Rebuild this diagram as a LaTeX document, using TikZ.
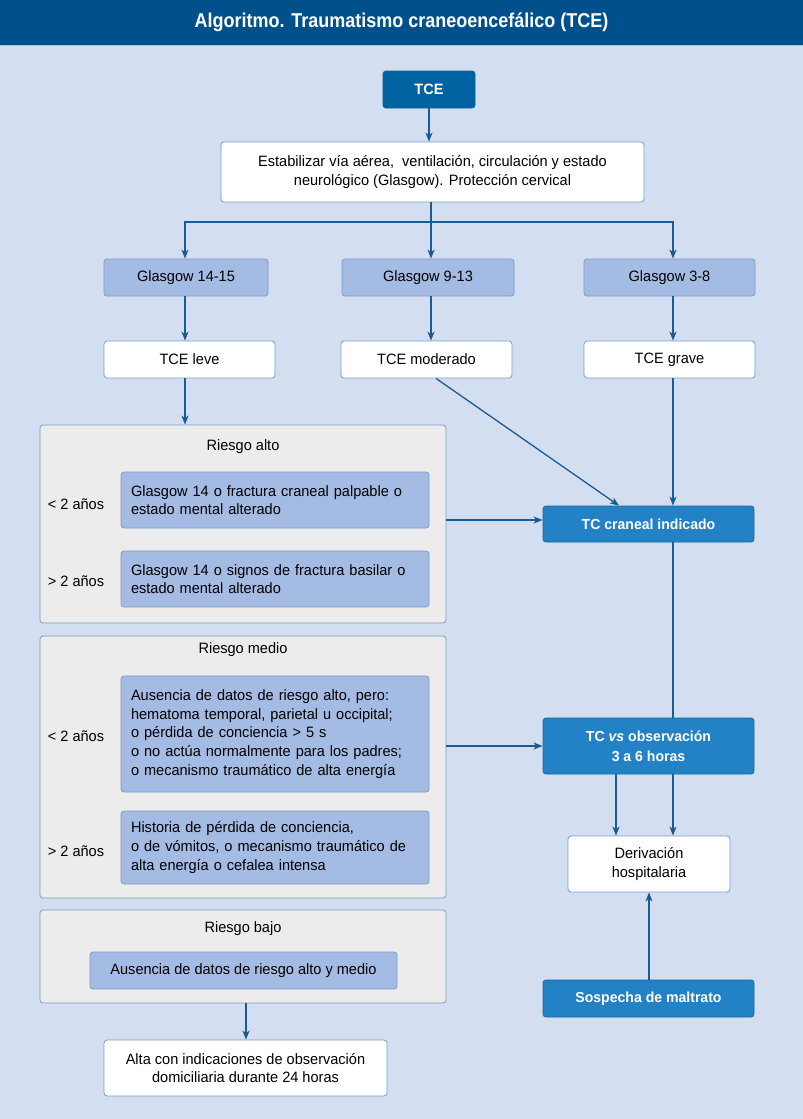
\documentclass[tikz,border=0pt]{standalone}
\usepackage{fontspec}
\setmainfont{Liberation Sans}[FakeStretch=0.97]
\newfontfamily\titfont{Liberation Sans}[FakeStretch=0.9]
\usetikzlibrary{arrows.meta,positioning}
\definecolor{bgc}{HTML}{D4DEF1}
\definecolor{titc}{HTML}{00508C}
\definecolor{tcec}{HTML}{0062A0}
\definecolor{tcc}{HTML}{2382C6}
\definecolor{glc}{HTML}{A4BBE4}
\definecolor{grc}{HTML}{ECECEC}
\definecolor{bdc}{HTML}{7A9CC8}
\definecolor{arc}{HTML}{1A5A96}
\begin{document}
\begin{tikzpicture}[x=1pt,y=-1pt,
  every node/.style={font=\fontsize{15}{18.7}\selectfont,inner sep=0pt},
  bx/.style={draw=bdc,line width=0.8pt,rounded corners=3pt,align=center,text=black},
  wbox/.style={bx,fill=white},
  gbox/.style={bx,fill=glc},
  dbox/.style={bx,fill=tcec,draw=tcec,text=white,font=\bfseries\fontsize{15}{18}\selectfont},
  tbox/.style={bx,fill=tcc,draw=tcc!80!black,text=white,font=\bfseries\fontsize{14.5}{20}\selectfont},
  rbox/.style={bx,fill=grc},
  ibox/.style={bx,fill=glc,align=left},
  arr/.style={draw=arc,line width=1.3pt,-{Stealth[length=9pt,width=7pt,inset=2.5pt]}},
  ln/.style={draw=arc,line width=1.3pt}]
\useasboundingbox (0,0) rectangle (803,1119);
\fill[bgc] (0,0) rectangle (803,1119);
\fill[titc] (0,0) rectangle (803,45);
\draw[bdc!60!white,line width=0.8pt] (0,45.5) -- (803,45.5);
\node[text=white,font=\titfont\bfseries\fontsize{20}{22}\selectfont] (title) at (401.5,22) {Algoritmo. Traumatismo craneoencefálico (TCE)};

% top
\node[dbox,minimum width=92pt,minimum height=37pt] (tce) at (429,89.5) {TCE};
\node[wbox,minimum width=423pt,minimum height=60pt,font=\fontsize{15}{19.5}\selectfont] (estab) at (432.5,172) {Estabilizar vía aérea,\ \ ventilación, circulación y estado\\neurológico (Glasgow). Protección cervical};

\node[gbox,minimum width=164pt,minimum height=37pt] (g1) at (186,277.5) {Glasgow 14-15};
\node[gbox,minimum width=172pt,minimum height=37pt] (g2) at (428,277.5) {Glasgow 9-13};
\node[gbox,minimum width=171pt,minimum height=37pt] (g3) at (669.5,277.5) {Glasgow 3-8};

\node[wbox,minimum width=171pt,minimum height=37pt] (l1) at (189.5,359.5) {TCE leve};
\node[wbox,minimum width=171pt,minimum height=37pt] (l2) at (426.5,359.5) {TCE moderado};
\node[wbox,minimum width=171pt,minimum height=37pt] (l3) at (669.5,359.5) {TCE grave};

% riesgo alto
\node[rbox,minimum width=406pt,minimum height=198pt] (ra) at (243,524) {};
\node (ralab) at (243,447) {Riesgo alto};
\node[ibox,minimum width=308pt,minimum height=56pt,text width=288pt] (ra1) at (275,500) {Glasgow 14 o fractura craneal palpable o\\estado mental alterado};
\node[ibox,minimum width=308pt,minimum height=56pt,text width=288pt] (ra2) at (275,579) {Glasgow 14 o signos de fractura basilar o\\estado mental alterado};
\node (ra1l) at (76,504) {< 2 años};
\node (ra2l) at (76,581) {> 2 años};

% riesgo medio
\node[rbox,minimum width=406pt,minimum height=262pt] (rm) at (243,767) {};
\node (rmlab) at (243,650) {Riesgo medio};
\node[ibox,minimum width=308pt,minimum height=116pt,text width=288pt] (rm1) at (275,734) {Ausencia de datos de riesgo alto, pero:\\hematoma temporal, parietal u occipital;\\o pérdida de conciencia > 5 s\\o no actúa normalmente para los padres;\\o mecanismo traumático de alta energía};
\node[ibox,minimum width=308pt,minimum height=73pt,text width=288pt] (rm2) at (275,847.5) {Historia de pérdida de conciencia,\\o de vómitos, o mecanismo traumático de\\alta energía o cefalea intensa};
\node (rm1l) at (76,736) {< 2 años};
\node (rm2l) at (76,851) {> 2 años};

% riesgo bajo
\node[rbox,minimum width=406pt,minimum height=93pt] (rb) at (243,956.5) {};
\node (rblab) at (243,929) {Riesgo bajo};
\node[gbox,minimum width=307pt,minimum height=37pt] (rb1) at (243.5,970.5) {Ausencia de datos de riesgo alto y medio};

\node[wbox,minimum width=283pt,minimum height=56pt] (alta) at (245.5,1068) {Alta con indicaciones de observación\\domiciliaria durante 24 horas};

% right column
\node[tbox,minimum width=211pt,minimum height=36pt] (tcc) at (648.5,524) {TC craneal indicado};
\node[tbox,minimum width=211pt,minimum height=56pt] (tcv) at (648.5,746) {TC \textit{vs} observación\\3 a 6 horas};
\node[wbox,minimum width=162pt,minimum height=56pt] (der) at (649,864) {Derivación\\hospitalaria};
\node[tbox,minimum width=211pt,minimum height=37pt] (sos) at (648.5,998.5) {Sospecha de maltrato};

% connectors
\coordinate (br) at (431,222);
\draw[arr] (tce) -- (estab.north -| tce);
\draw[ln] (estab.south -| br) -- (br);
\draw[arr] (br) -| (g1.north -| 185,0);
\draw[arr] (br) -- (g2.north -| br);
\draw[arr] (br) -| (g3.north -| 673,0);
\draw[arr] (g1.south -| 185,0) -- (l1.north -| 185,0);
\draw[arr] (g2.south -| 431,0) -- (l2.north -| 431,0);
\draw[arr] (g3.south -| 673,0) -- (l3.north -| 673,0);
\draw[arr] (l1.south -| 185,0) -- (ra.north -| 185,0);
\draw[arr] (l2.south -| 436,0) -- (tcc.north -| 619,0);
\draw[arr] (l3.south -| 673,0) -- (tcc.north -| 673,0);
\draw[arr] (ra.east |- 0,520) -- (tcc.west |- 0,520);
\draw[ln] (tcc.south -| 673,0) -- (tcv.north -| 673,0);
\draw[arr] (rm.east |- 0,746) -- (tcv.west |- 0,746);
\draw[arr] (tcv.south -| 616,0) -- (der.north -| 616,0);
\draw[arr] (tcv.south -| 673,0) -- (der.north -| 673,0);
\draw[arr] (sos.north -| 649,0) -- (der.south -| 649,0);
\draw[arr] (rb.south -| 246,0) -- (alta.north -| 246,0);
\end{tikzpicture}
\end{document}
